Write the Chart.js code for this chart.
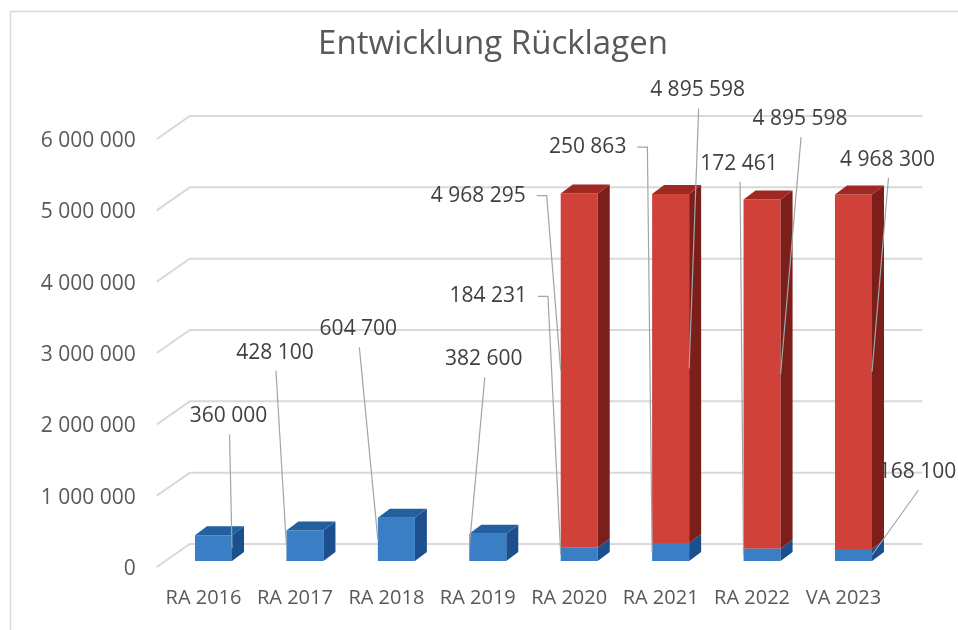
<!DOCTYPE html>
<html>
<head>
<meta charset="utf-8">
<script src="https://cdn.jsdelivr.net/npm/chart.js@4.4.1/dist/chart.umd.min.js"></script>
<style>
  html, body { margin: 0; padding: 0; background: #fff; }
  #wrap { width: 958px; height: 630px; }
</style>
</head>
<body>
<div id="wrap"><canvas id="chartBar"></canvas></div>
<script>
/* Daten */
var kategorien = ['RA 2016', 'RA 2017', 'RA 2018', 'RA 2019', 'RA 2020', 'RA 2021', 'RA 2022', 'VA 2023'];
var werteBlau = [360000, 428100, 604700, 382600, 184231, 250863, 172461, 168100];
var werteRot = [0, 0, 0, 0, 4968295, 4895598, 4895598, 4968300];
var yMax = 6000000;
var yStep = 1000000;

/* Lage der Beschriftungen: [dx, dy, Kante (-1 links / 1 rechts), Knick] relativ zur Segmentmitte */
var posBlau = [
    [15, -132, 1, false],
    [-30, -193, -1, false],
    [-38, -210, -1, false],
    [-4, -188, -1, false],
    [-91, -258, -1, true],
    [-83, -405, -1, true],
    [-23, -391, -1, false],
    [64, -83, 1, false]
];
var posRot = [
    null, null, null, null,
    [-101, -175, -1, true],
    [27, -278, 1, false],
    [38, -255, 1, false],
    [34, -212, 1, false]
];

var tiefeX = 12;
var tiefeY = 9;

function formatZahl(v) {
    return String(v).replace(/\B(?=(\d{3})+(?!\d))/g, ' ');
}

// Rahmen + perspektivische Gitterlinien
var hintergrund = {
    id: 'hintergrund',
    beforeDraw: function (chart) {
        var ctx = chart.ctx;
        ctx.save();
        ctx.strokeStyle = '#d9d9d9';
        ctx.lineWidth = 1.5;
        ctx.beginPath();
        ctx.moveTo(10.5, 640);
        ctx.lineTo(10.5, 11.5);
        ctx.lineTo(960, 11.5);
        ctx.stroke();
        ctx.restore();
    },
    beforeDatasetsDraw: function (chart) {
        var ctx = chart.ctx;
        var y = chart.scales.y;
        var area = chart.chartArea;
        ctx.save();
        ctx.strokeStyle = '#d9d9d9';
        ctx.lineWidth = 2;
        for (var v = 0; v <= yMax; v += yStep) {
            var py = y.getPixelForValue(v);
            ctx.beginPath();
            ctx.moveTo(area.left - 11, py + 6);
            ctx.lineTo(area.left + 22, py - 17);
            ctx.lineTo(area.right + 23, py - 17);
            ctx.stroke();
        }
        ctx.restore();
    }
};

// 3D-Seiten, Deckflaechen und Beschriftungen
var saeulen3d = {
    id: 'saeulen3d',
    afterDatasetsDraw: function (chart) {
        var ctx = chart.ctx;
        var farben = [
            { seite: '#1c4f8e', deckel: '#22609f' },
            { seite: '#7c1e19', deckel: '#a02822' }
        ];
        ctx.save();
        for (var d = 0; d < 2; d++) {
            var meta = chart.getDatasetMeta(d);
            meta.data.forEach(function (bar, i) {
                var wert = chart.data.datasets[d].data[i];
                if (!wert) return;
                var x0 = bar.x - bar.width / 2;
                var x1 = bar.x + bar.width / 2;
                var top = bar.y;
                var base = bar.base;
                // Seite
                ctx.fillStyle = farben[d].seite;
                ctx.beginPath();
                ctx.moveTo(x1, top);
                ctx.lineTo(x1 + tiefeX, top - tiefeY);
                ctx.lineTo(x1 + tiefeX, base - tiefeY);
                ctx.lineTo(x1, base);
                ctx.closePath();
                ctx.fill();
                // Deckel nur beim obersten Segment
                var oben = d === 1 || !werteRot[i];
                if (oben) {
                    ctx.fillStyle = farben[d].deckel;
                    ctx.beginPath();
                    ctx.moveTo(x0, top);
                    ctx.lineTo(x0 + tiefeX, top - tiefeY);
                    ctx.lineTo(x1 + tiefeX, top - tiefeY);
                    ctx.lineTo(x1, top);
                    ctx.closePath();
                    ctx.fill();
                }
            });
        }

        ctx.font = '21px "Open Sans"';
        ctx.textAlign = 'center';
        ctx.textBaseline = 'middle';
        for (var d2 = 0; d2 < 2; d2++) {
            var meta2 = chart.getDatasetMeta(d2);
            var pos = d2 === 0 ? posBlau : posRot;
            meta2.data.forEach(function (bar, i) {
                var wert = chart.data.datasets[d2].data[i];
                var p = pos[i];
                if (!wert || !p) return;
                var mitte = (bar.y + bar.base) / 2;
                var lx = bar.x + p[0];
                var ly = mitte + p[1];
                var ex = bar.x + p[2] * bar.width / 2;
                var text = formatZahl(wert);
                ctx.strokeStyle = '#9ea7a7';
                ctx.lineWidth = 1.2;
                ctx.beginPath();
                if (p[3]) {
                    var rechts = lx + ctx.measureText(text).width / 2;
                    ctx.moveTo(rechts + 11, ly);
                    ctx.lineTo(rechts + 21, ly);
                } else {
                    ctx.moveTo(lx + 1, ly + 18);
                }
                ctx.lineTo(ex, mitte);
                ctx.stroke();
                ctx.fillStyle = '#404040';
                ctx.fillText(text, lx, ly);
            });
        }
        ctx.restore();
    }
};

var barChart = new Chart(document.getElementById('chartBar'), {
    type: 'bar',
    data: {
        labels: kategorien,
        datasets: [
            {
                label: 'Rücklagen',
                data: werteBlau,
                backgroundColor: '#3a7fc5',
                barPercentage: 0.405,
                categoryPercentage: 1
            },
            {
                label: 'Rücklagen 2',
                data: werteRot,
                backgroundColor: '#d0413a',
                barPercentage: 0.405,
                categoryPercentage: 1
            }
        ]
    },
    options: {
        responsive: true,
        maintainAspectRatio: false,
        animation: false,
        layout: { padding: { left: 28, right: 0, top: 0, bottom: 0 } },
        plugins: {
            legend: { display: false },
            tooltip: { enabled: false },
            title: {
                display: true,
                text: 'Entwicklung Rücklagen',
                color: '#595959',
                font: { family: 'Open Sans', size: 33, weight: 'normal', lineHeight: 1.2 },
                padding: { top: 25.2, bottom: 68.2 }
            }
        },
        scales: {
            x: {
                stacked: true,
                grid: { display: false, drawTicks: false },
                border: { display: false },
                ticks: {
                    color: '#595959',
                    font: { family: 'Open Sans', size: 20 },
                    padding: 25,
                    labelOffset: -10,
                    maxRotation: 0
                },
                afterFit: function (scale) { scale.height = 69; }
            },
            y: {
                stacked: true,
                min: 0,
                max: yMax,
                grid: { display: false, drawTicks: false },
                border: { display: false },
                ticks: {
                    stepSize: yStep,
                    color: '#595959',
                    font: { family: 'Open Sans', size: 21 },
                    padding: 32,
                    labelOffset: 8,
                    callback: function (v) { return formatZahl(v); }
                },
                afterFit: function (scale) { scale.width = 139.8; }
            },
            // leere Achse rechts, haelt nur den Abstand zum Rand
            yRechts: {
                position: 'right',
                display: true,
                grid: { display: false, drawTicks: false },
                border: { display: false },
                ticks: { display: false },
                afterFit: function (scale) { scale.width = 58.8; }
            }
        }
    },
    plugins: [hintergrund, saeulen3d]
});
</script>
</body>
</html>
